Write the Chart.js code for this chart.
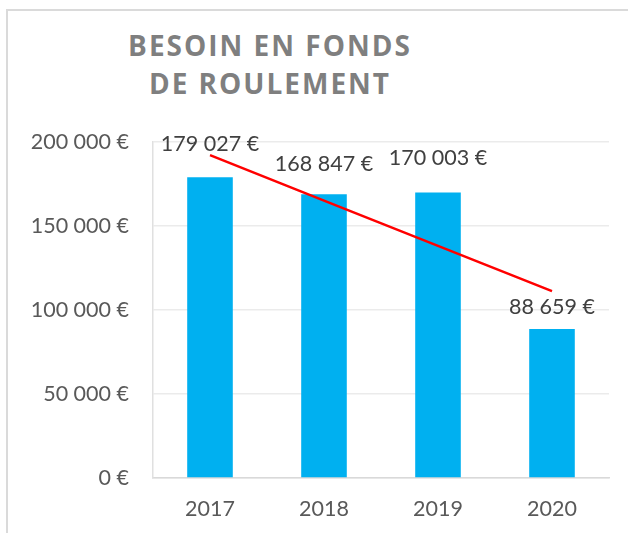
<!DOCTYPE html>
<html>
<head>
<meta charset="utf-8">
<script src="https://cdn.jsdelivr.net/npm/chart.js@4"></script>
<style>
  html, body { margin: 0; padding: 0; background: #fff; overflow: hidden; }
  #wrap { position: relative; width: 628px; height: 533px; }
  #frame { position: absolute; left: 6px; top: 9px; width: 660px; height: 560px; border: 2px solid #dadada; }
  #title {
    position: absolute; left: 0; top: 26px; width: 536px; padding-left: 2px;
    text-align: center; font-family: "Open Sans", sans-serif; font-weight: bold;
    font-size: 28px; line-height: 38px; letter-spacing: 2px; color: #7f7f7f;
  }
  canvas { position: absolute; left: 0; top: 0; }
</style>
</head>
<body>
<div id="wrap">
  <div id="frame"></div>
  <div id="title">BESOIN EN FONDS<br>DE ROULEMENT</div>
  <canvas id="bfrChart" width="628" height="533"></canvas>
</div>
<script>
const years = ['2017', '2018', '2019', '2020'];
const bfr = [179027, 168847, 170003, 88659];
// trend line (red straight line)
const trend = [192200, 165100, 138200, 111200];
const yTicks = [0, 50000, 100000, 150000, 200000];

const euro = v => Math.round(v).toString().replace(/\B(?=(\d{3})+(?!\d))/g, ' ') + ' €';

const barLabels = {
    id: 'barLabels',
    afterDatasetsDraw(chart, args, opts) {
        const c = chart.ctx;
        const meta = chart.getDatasetMeta(1);
        c.save();
        c.font = '21.5px Lato, sans-serif';
        c.fillStyle = '#404040';
        c.textAlign = 'center';
        c.textBaseline = 'middle';
        meta.data.forEach((bar, i) => {
            c.fillText(euro(bfr[i]), bar.x, bar.y - opts.offsets[i]);
        });
        c.restore();
    }
};

const ctx = document.getElementById('bfrChart').getContext('2d');
new Chart(ctx, {
    type: 'bar',
    data: {
        labels: years,
        datasets: [
            { type: 'line', data: trend, borderColor: '#ff0000', borderWidth: 2.5, pointRadius: 0, fill: false, order: 0 },
            { data: bfr, backgroundColor: '#00b0f0', barPercentage: 0.4, categoryPercentage: 1, order: 1 }
        ]
    },
    options: {
        responsive: false,
        animation: false,
        layout: { padding: { top: 142, right: 19, bottom: 0, left: 0 } },
        plugins: {
            legend: { display: false },
            title: { display: false },
            tooltip: { enabled: false },
            barLabels: { offsets: [33, 30, 34, 22] }
        },
        scales: {
            x: {
                afterFit: s => { s.height = 55; },
                grid: { display: false, drawTicks: false },
                border: { display: true, color: '#d9d9d9', width: 1.5 },
                ticks: { color: '#595959', font: { family: 'Lato', size: 21.5 }, padding: 18 }
            },
            y: {
                min: 0, max: 200000,
                afterBuildTicks: s => { s.ticks = yTicks.map(v => ({ value: v })); },
                afterFit: s => { s.width = 153; },
                grid: { color: '#ebebeb', lineWidth: 1.5, drawTicks: false },
                border: { display: true, color: '#e0e0e0', width: 1.5 },
                ticks: { color: '#595959', font: { family: 'Lato', size: 21.5 }, padding: 24, callback: v => euro(v) }
            }
        }
    },
    plugins: [barLabels]
});
</script>
</body>
</html>
